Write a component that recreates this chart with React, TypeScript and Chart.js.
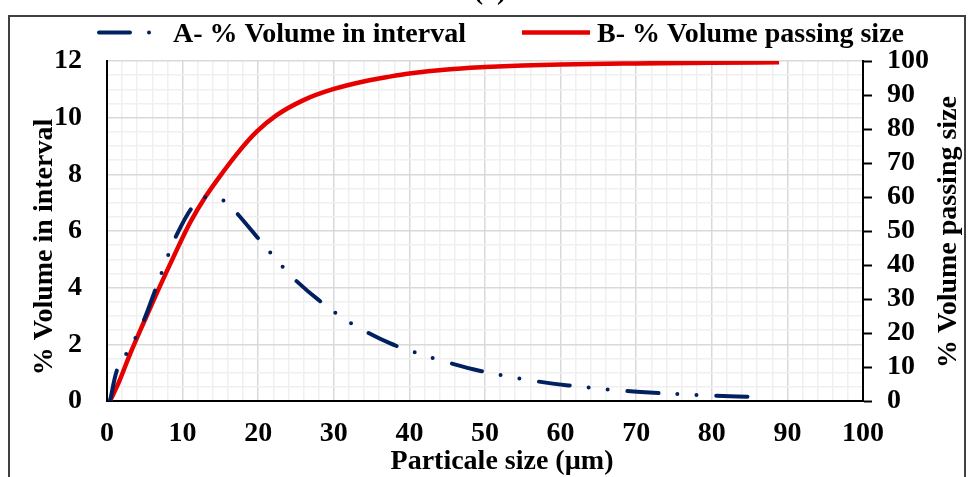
import React, { useEffect, useRef } from 'react';
import { Chart, registerables } from 'chart.js';

Chart.register(...registerables);

// Series A: % volume in interval (left axis)
const sizeA = [0.4, 1.4, 3.0, 4.8, 6.4, 8.1, 9.0, 11.1, 13.0, 15.3, 17.0, 20.0, 23.1, 25.0, 28.1, 32.0, 37.4, 42.8, 49.4, 56.5, 61.0, 68.3, 75.0, 80.0, 86.8];
const volA = [0, 1.15, 1.85, 2.8, 3.93, 5.15, 5.74, 6.77, 7.19, 7.09, 6.68, 5.74, 4.78, 4.25, 3.54, 2.79, 2.04, 1.54, 1.06, 0.71, 0.55, 0.36, 0.25, 0.19, 0.13];

// Series B: % volume passing size (right axis)
const sizeB = [0.4, 1.6, 2.9, 4.8, 6.6, 8.8, 11.0, 13.0, 15.4, 17.6, 19.8, 22.4, 26.0, 29.9, 34.4, 37.4, 40, 45, 50, 55, 60, 70, 80, 88.9];
const passB = [0, 5.7, 13.0, 22.8, 31.8, 42.4, 52.5, 60.0, 67.5, 73.8, 79.2, 84.0, 88.5, 91.7, 94.2, 95.4, 96.3, 97.5, 98.2, 98.7, 99.0, 99.3, 99.5, 99.6];

const seriesNames = ['A- % Volume in interval', 'B- % Volume passing size'];
const xTitle = 'Particale size (µm)';
const yTitle = '% Volume in interval';
const y2Title = '% Volume passing size';
const panelLabel = '(a)';

const xTickLabels = [0, 10, 20, 30, 40, 50, 60, 70, 80, 90, 100];
const yTickLabels = [0, 2, 4, 6, 8, 10, 12];
const y2TickLabels = [0, 10, 20, 30, 40, 50, 60, 70, 80, 90, 100];

const BLUE = '#002060';
const RED = '#e60000';
const MAJOR = '#d9d9d9';
const MINOR = '#f0f0f0';
const FAMILY = '"Liberation Serif", "Times New Roman", serif';
const FONT = `bold 28px ${FAMILY}`;
const DASH = [31, 19, 0, 19, 0, 20];

const overlay = {
  id: 'overlay',
  afterDraw(chart: any) {
    const ctx = chart.ctx as CanvasRenderingContext2D;
    ctx.save();
    ctx.font = FONT;
    ctx.fillStyle = '#000';
    ctx.textBaseline = 'alphabetic';

    // panel label (cut off at top)
    ctx.textAlign = 'center';
    ctx.fillText(panelLabel, 490, -1.5);

    // legend
    ctx.lineWidth = 4;
    ctx.lineCap = 'round';
    ctx.strokeStyle = BLUE;
    ctx.setLineDash(DASH);
    ctx.beginPath();
    ctx.moveTo(99, 32.5);
    ctx.lineTo(150, 32.5);
    ctx.stroke();
    ctx.setLineDash([]);
    ctx.strokeStyle = RED;
    ctx.lineWidth = 4.5;
    ctx.lineCap = 'butt';
    ctx.beginPath();
    ctx.moveTo(522, 32.5);
    ctx.lineTo(590, 32.5);
    ctx.stroke();
    ctx.textAlign = 'left';
    ctx.fillText(seriesNames[0], 173, 42);
    ctx.fillText(seriesNames[1], 597, 42);

    // x title
    ctx.textAlign = 'center';
    ctx.fillText(xTitle, 502, 469);

    // left title
    ctx.save();
    ctx.translate(52, 247);
    ctx.rotate(-Math.PI / 2);
    ctx.fillText(yTitle, 0, 0);
    ctx.restore();

    // right title
    ctx.save();
    ctx.translate(956, 232);
    ctx.rotate(-Math.PI / 2);
    ctx.fillText(y2Title, 0, 0);
    ctx.restore();

    ctx.restore();
  },
};

export default function App() {
  const ref = useRef<HTMLCanvasElement | null>(null);

  useEffect(() => {
    if (!ref.current) return;
    const tickFont = { family: FAMILY, size: 28, weight: 'bold' as const };
    const chart = new Chart(ref.current, {
      type: 'line',
      data: {
        datasets: [
          {
            label: seriesNames[0],
            data: sizeA.map((x, i) => ({ x, y: volA[i] })),
            yAxisID: 'y',
            borderColor: BLUE,
            backgroundColor: BLUE,
            borderWidth: 4,
            borderDash: DASH,
            borderCapStyle: 'round',
            pointRadius: 0,
            tension: 0.3,
            fill: false,
          },
          {
            label: seriesNames[1],
            data: sizeB.map((x, i) => ({ x, y: passB[i] })),
            yAxisID: 'y2',
            borderColor: RED,
            backgroundColor: RED,
            borderWidth: 4.5,
            pointRadius: 0,
            cubicInterpolationMode: 'monotone',
            fill: false,
          },
        ],
      },
      options: {
        responsive: false,
        animation: false,
        devicePixelRatio: 1,
        layout: { padding: { top: 61, left: 0, right: 0, bottom: 0 } },
        plugins: {
          legend: { display: false },
          tooltip: { enabled: false },
          title: { display: false },
        },
        scales: {
          x: {
            type: 'linear',
            min: 0,
            max: 100,
            afterFit: (s: any) => { s.height = 76; },
            ticks: {
              stepSize: 2,
              autoSkip: false,
              maxRotation: 0,
              minRotation: 0,
              padding: 16,
              color: '#000',
              font: tickFont,
              callback: (v: any) => (xTickLabels.includes(Number(v)) ? String(v) : ''),
            },
            grid: {
              drawTicks: false,
              lineWidth: 1.5,
              color: (c: any) => (c.tick && xTickLabels.includes(c.tick.value) ? MAJOR : MINOR),
            },
            border: { display: true, color: '#000', width: 2 },
          },
          y: {
            type: 'linear',
            position: 'left',
            min: 0,
            max: 12,
            afterFit: (s: any) => { s.width = 107; },
            ticks: {
              stepSize: 0.5,
              autoSkip: false,
              padding: 25,
              color: '#000',
              font: tickFont,
              callback: (v: any) => (yTickLabels.includes(Number(v)) ? String(v) : ''),
            },
            grid: {
              drawTicks: false,
              lineWidth: 1.5,
              color: (c: any) => (c.tick && yTickLabels.includes(c.tick.value) ? MAJOR : MINOR),
            },
            border: { display: true, color: '#000', width: 2 },
          },
          y2: {
            type: 'linear',
            position: 'right',
            min: 0,
            max: 100,
            afterFit: (s: any) => { s.width = 108; },
            ticks: {
              stepSize: 10,
              autoSkip: false,
              padding: 15,
              color: '#000',
              font: tickFont,
              callback: (v: any) => (y2TickLabels.includes(Number(v)) ? String(v) : ''),
            },
            grid: {
              drawOnChartArea: false,
              drawTicks: true,
              tickLength: 9,
              tickColor: '#000',
              tickWidth: 2,
            },
            border: { display: true, color: '#000', width: 2 },
          },
        },
      },
      plugins: [overlay],
    } as any);
    return () => chart.destroy();
  }, []);

  return (
    <div style={{ position: 'fixed', left: 0, top: 0, width: 971, height: 477, overflow: 'hidden', background: '#fff' }}>
      <canvas ref={ref} width={971} height={477} style={{ display: 'block' }} />
      <div
        style={{
          position: 'absolute',
          left: 8,
          top: 15,
          width: 958,
          height: 480,
          border: '2px solid #404040',
          boxSizing: 'border-box',
          pointerEvents: 'none',
        }}
      />
    </div>
  );
}
